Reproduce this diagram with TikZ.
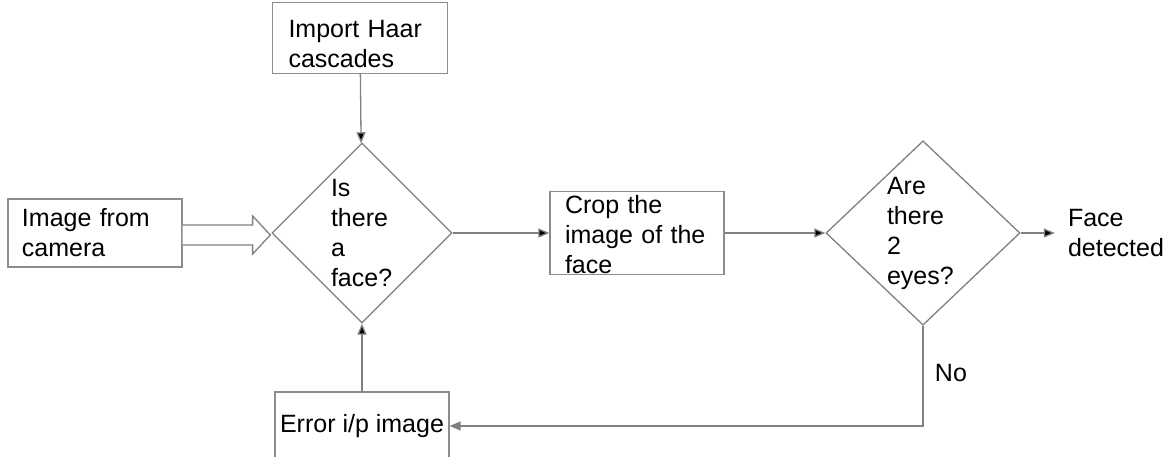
\documentclass[tikz,border=0pt]{standalone}
\usepackage{fontspec}
\setmainfont{Liberation Sans}
\usetikzlibrary{positioning}
\usetikzlibrary{shapes.geometric}
\usetikzlibrary{arrows.meta}
\usetikzlibrary{calc}
\definecolor{linegray}{HTML}{808080}
\definecolor{boxgray}{HTML}{8C8C8C}

\begin{document}
\begin{tikzpicture}[x=1pt,y=1pt,on grid,node distance=100pt,
      font=\fontsize{25}{30}\selectfont,
      box/.style={draw=boxgray, line width=1.3pt, rectangle, align=left, inner sep=0pt},
      dec/.style={draw=linegray, line width=1.3pt, diamond, align=left, inner sep=0pt},
      arr/.style={draw=linegray, line width=1.3pt, -{Triangle[length=11pt,width=9pt]}}]

      \useasboundingbox (-362,-224) rectangle (807,233);

      \node[dec, text width=62pt, minimum width=180pt, minimum height=180pt] (face) {Is\\there\\a\\face?};
      \node[box, text width=143pt, minimum width=175pt, minimum height=71pt] (haar) [above=195pt of face, xshift=-2pt] {\rule{0pt}{29pt}Import Haar\\cascades};
      \node[box, text width=146pt, minimum width=174pt, minimum height=68pt] (camera) [left=267pt of face] {Image from\\camera};
      \node[box, text width=144pt, minimum width=174pt, minimum height=83pt] (crop) [right=275pt of face] {\rule{0pt}{21pt}Crop the\\image of the\\face};
      \node[dec, text width=72pt, minimum width=194pt, minimum height=180pt] (eyes) [right=286pt of crop] {Are\\there\\2\\eyes?};
      \node[align=left, inner xsep=13pt, inner ysep=0pt] (detected) [right=193pt of eyes] {Face\\detected};
      \node[box, align=center, minimum width=174pt, minimum height=68pt] (err) [below=193pt of face] {Error i/p image};

      \coordinate (turn) at (eyes.south |- err.east);

      % hollow input arrow
      \draw[draw=linegray, line width=1.3pt, fill=white]
        ($(camera.east)+(0,8)$) -- ++(70,0) -- ++(0,9) -- ($(face.west)+(-1,-2)$)
        -- ($(camera.east)+(70,-21)$) -- ++(0,9) -- ($(camera.east)+(0,-12)$);

      \path[arr]
        (haar) edge (face)
        (err) edge (face)
        (face) edge (crop)
        (crop) edge (eyes)
        (eyes) edge (detected);

      \draw[arr] (eyes.south) -- node[right, xshift=8pt, yshift=3pt] {No} (turn) -- (err.east);

\end{tikzpicture}
\end{document}
